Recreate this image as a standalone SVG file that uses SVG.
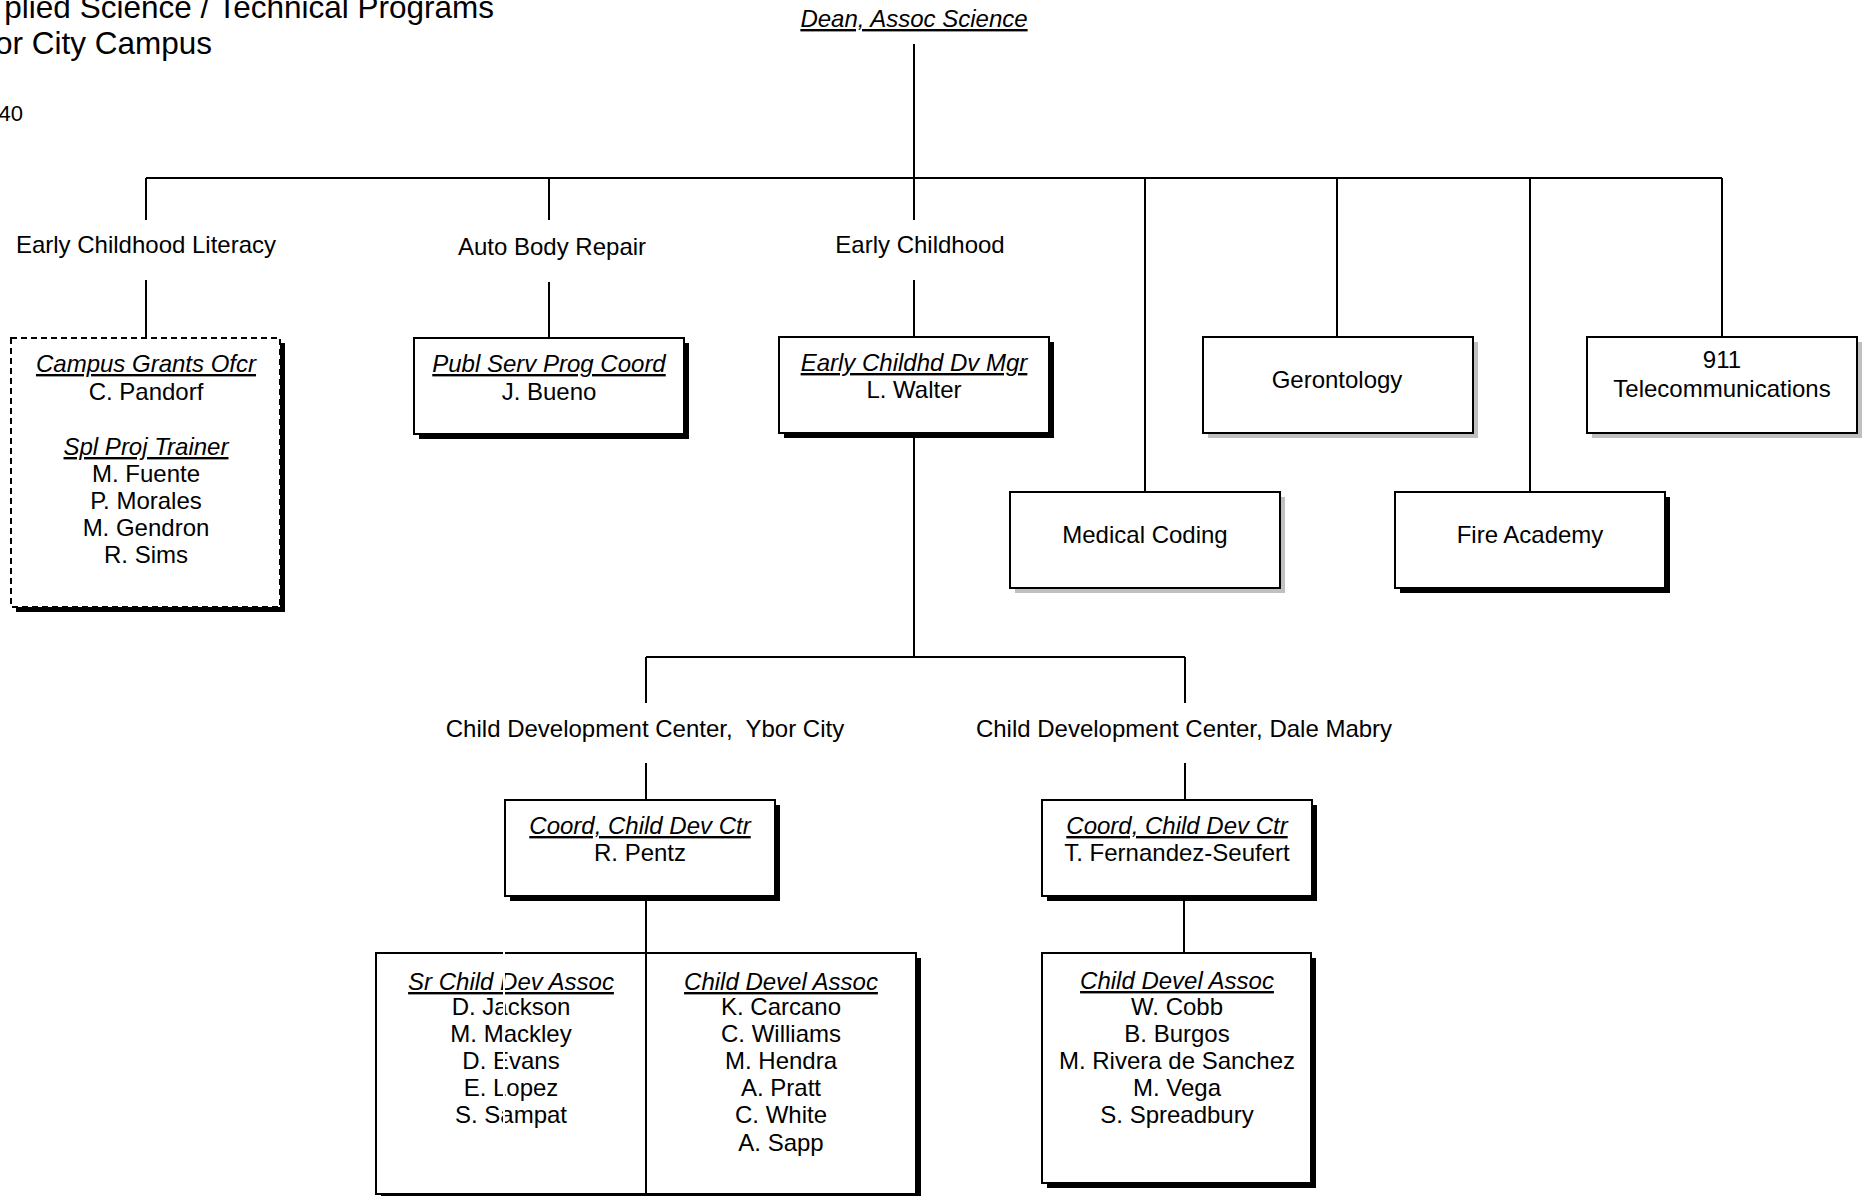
<svg xmlns="http://www.w3.org/2000/svg" width="1865" height="1196" viewBox="0 0 1865 1196">
<style>
text{font-family:"Liberation Sans",Arial,sans-serif;font-size:24px;fill:#000;text-anchor:middle}
.t{font-style:italic;text-decoration:underline}
.title{font-size:31.5px;text-anchor:end}
.box{fill:#fff;stroke:#000;stroke-width:2}
.dash{fill:#fff;stroke:#000;stroke-width:2;stroke-dasharray:6 4}
.sh{fill:#000}
.shg{fill:#c0c0c0}
.c{stroke:#000;stroke-width:2;fill:none}
</style>
<g id="header">
<text class="title" x="494" y="18">plied Science / Technical Programs</text>
<text class="title" x="212" y="54">or City Campus</text>
<text x="23" y="121" style="text-anchor:end;font-size:22px">40</text>
</g>
<g id="connectors">
<path class="c" d="M914 44V178M146 178H1722"/>
<path class="c" d="M146 178V220M549 178V220M914 178V220M1145 178V492M1337 178V337M1530 178V492M1722 178V337"/>
<path class="c" d="M146 280V338M549 282V338M914 280V337"/>
<path class="c" d="M914 433V657M646 657H1185M646 657V703M1185 657V703M646 763V800M1185 763V800M646 896V953M1184 896V953"/>
</g>
<g id="dean"><text class="t" x="914" y="27">Dean, Assoc Science</text></g>
<g id="lbl-ecl"><text x="146" y="253">Early Childhood Literacy</text></g>
<g id="lbl-abr"><text x="552" y="255">Auto Body Repair</text></g>
<g id="lbl-ec"><text x="920" y="253">Early Childhood</text></g>
<g id="campus-grants">
<rect class="sh" x="16" y="343" width="269" height="269"/>
<rect class="dash" x="11" y="338" width="269" height="269"/>
<text class="t" x="146" y="372">Campus Grants Ofcr</text>
<text x="146" y="400">C. Pandorf</text>
<text class="t" x="146" y="455">Spl Proj Trainer</text>
<text x="146" y="482">M. Fuente</text>
<text x="146" y="509">P. Morales</text>
<text x="146" y="536">M. Gendron</text>
<text x="146" y="563">R. Sims</text>
</g>
<g id="publ-serv">
<rect class="sh" x="419" y="343" width="270" height="96"/>
<rect class="box" x="414" y="338" width="270" height="96"/>
<text class="t" x="549" y="372">Publ Serv Prog Coord</text>
<text x="549" y="400">J. Bueno</text>
</g>
<g id="ec-mgr">
<rect class="sh" x="784" y="342" width="270" height="96"/>
<rect class="box" x="779" y="337" width="270" height="96"/>
<text class="t" x="914" y="371">Early Childhd Dv Mgr</text>
<text x="914" y="398">L. Walter</text>
</g>
<g id="gerontology">
<rect class="shg" x="1208" y="342" width="270" height="96"/>
<rect class="box" x="1203" y="337" width="270" height="96"/>
<text x="1337" y="388">Gerontology</text>
</g>
<g id="tele911">
<rect class="shg" x="1592" y="342" width="270" height="96"/>
<rect class="box" x="1587" y="337" width="270" height="96"/>
<text x="1722" y="368">911</text>
<text x="1722" y="397">Telecommunications</text>
</g>
<g id="medical-coding">
<rect class="shg" x="1015" y="497" width="270" height="96"/>
<rect class="box" x="1010" y="492" width="270" height="96"/>
<text x="1145" y="543">Medical Coding</text>
</g>
<g id="fire-academy">
<rect class="sh" x="1400" y="497" width="270" height="96"/>
<rect class="box" x="1395" y="492" width="270" height="96"/>
<text x="1530" y="543">Fire Academy</text>
</g>
<g id="lbl-ybor"><text x="645" y="737">Child Development Center,&#160; Ybor City</text></g>
<g id="lbl-dale"><text x="1184" y="737">Child Development Center, Dale Mabry</text></g>
<g id="coord-ybor">
<rect class="sh" x="510" y="805" width="270" height="96"/>
<rect class="box" x="505" y="800" width="270" height="96"/>
<text class="t" x="640" y="834">Coord, Child Dev Ctr</text>
<text x="640" y="861">R. Pentz</text>
</g>
<g id="coord-dale">
<rect class="sh" x="1047" y="805" width="270" height="96"/>
<rect class="box" x="1042" y="800" width="270" height="96"/>
<text class="t" x="1177" y="834">Coord, Child Dev Ctr</text>
<text x="1177" y="861">T. Fernandez-Seufert</text>
</g>
<g id="assoc-ybor">
<rect class="sh" x="381" y="958" width="540" height="260"/>
<rect class="box" x="376" y="953" width="540" height="241"/>
<line class="c" x1="646" y1="953" x2="646" y2="1194"/>
<text class="t" x="511" y="990">Sr Child Dev Assoc</text>
<text x="511" y="1015">D. Jackson</text>
<text x="511" y="1042">M. Mackley</text>
<text x="511" y="1069">D. Evans</text>
<text x="511" y="1096">E. Lopez</text>
<text x="511" y="1123">S. Sampat</text>
<rect x="503" y="950" width="2" height="186" fill="#fff"/>
<text class="t" x="781" y="990">Child Devel Assoc</text>
<text x="781" y="1015">K. Carcano</text>
<text x="781" y="1042">C. Williams</text>
<text x="781" y="1069">M. Hendra</text>
<text x="781" y="1096">A. Pratt</text>
<text x="781" y="1123">C. White</text>
<text x="781" y="1151">A. Sapp</text>
</g>
<g id="assoc-dale">
<rect class="sh" x="1047" y="958" width="269" height="230"/>
<rect class="box" x="1042" y="953" width="269" height="230"/>
<text class="t" x="1177" y="989">Child Devel Assoc</text>
<text x="1177" y="1015">W. Cobb</text>
<text x="1177" y="1042">B. Burgos</text>
<text x="1177" y="1069">M. Rivera de Sanchez</text>
<text x="1177" y="1096">M. Vega</text>
<text x="1177" y="1123">S. Spreadbury</text>
</g>
</svg>
